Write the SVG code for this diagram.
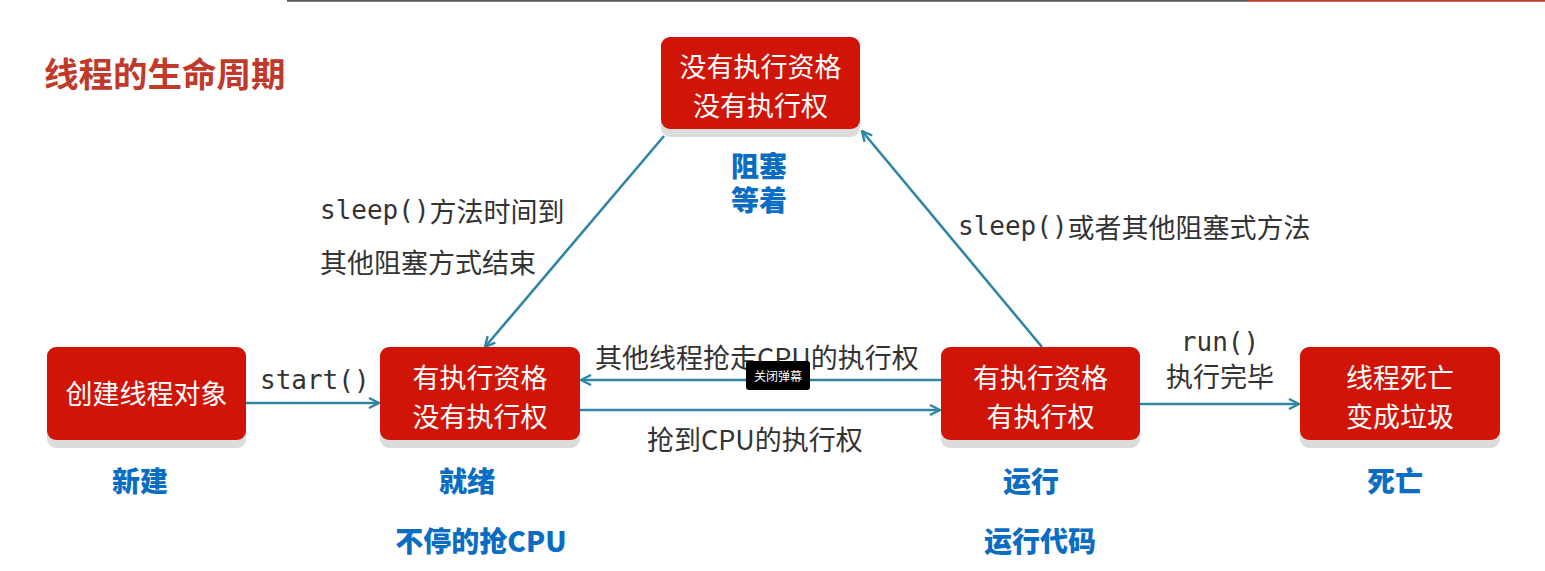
<svg xmlns="http://www.w3.org/2000/svg" width="1545" height="571" viewBox="0 0 1545 571">
<defs>
<marker id="arr" viewBox="0 0 12 12" refX="11" refY="6" markerWidth="12" markerHeight="12" markerUnits="userSpaceOnUse" orient="auto">
<path d="M1,1 L11,6 L1,11" fill="none" stroke="#2f86a2" stroke-width="2.4"/>
</marker>
<style>
.box{fill:#d01508}
.shadow{fill:#dcdcdc}
.bt{font-family:"Noto Sans CJK SC","Noto Sans",sans-serif;font-size:27px;fill:#ffffff;text-anchor:middle;dominant-baseline:central}
.lbl{font-family:"DejaVu Sans Mono","Noto Sans CJK SC",monospace;font-size:26px;fill:#333333;dominant-baseline:central}
.lbl tspan{font-family:"Noto Sans CJK SC",sans-serif;font-size:27px}
.cn{font-family:"Noto Sans CJK SC","Noto Sans",sans-serif;font-size:27px;fill:#333333;dominant-baseline:central}
.blue{font-family:"Noto Sans CJK SC",sans-serif;font-size:28px;font-weight:900;fill:#0b6cc4;text-anchor:middle;dominant-baseline:central}
.conn{stroke:#2f86a2;stroke-width:2.6;fill:none}
</style>
</defs>
<rect width="1545" height="571" fill="#ffffff"/>
<line x1="287" y1="0.8" x2="1248" y2="0.8" stroke="#555a5e" stroke-width="2"/>
<line x1="1248" y1="0.8" x2="1545" y2="0.8" stroke="#c23a2e" stroke-width="2"/>
<text x="44" y="72" font-family="Noto Sans CJK SC,sans-serif" font-size="34.5" font-weight="700" fill="#c0392b" dominant-baseline="central">线程的生命周期</text>

<g id="connectors">
<line class="conn" x1="246" y1="403" x2="379" y2="403" marker-end="url(#arr)"/>
<line class="conn" x1="580" y1="410" x2="940" y2="410" marker-end="url(#arr)"/>
<line class="conn" x1="941" y1="380" x2="581" y2="380" marker-end="url(#arr)"/>
<line class="conn" x1="1140" y1="404" x2="1299" y2="404" marker-end="url(#arr)"/>
<line class="conn" x1="664" y1="136" x2="485" y2="347" marker-end="url(#arr)"/>
<line class="conn" x1="1042" y1="347" x2="862" y2="131" marker-end="url(#arr)"/>
<text class="lbl" x="260" y="380">start()</text>
<text class="cn" x="647" y="438">抢到CPU的执行权</text>
<text class="cn" x="595" y="356">其他线程抢走CPU的执行权</text>
<text class="lbl" x="1220" y="342" text-anchor="middle">run()</text>
<text class="cn" x="1220" y="375" text-anchor="middle">执行完毕</text>
<text class="lbl" x="320" y="210">sleep()<tspan>方法时间到</tspan></text>
<text class="cn" x="320" y="261">其他阻塞方式结束</text>
<text class="lbl" x="958" y="226">sleep()<tspan>或者其他阻塞式方法</tspan></text>
</g>

<g id="blocked">
<rect class="shadow" x="661" y="45" width="199" height="92" rx="9"/>
<rect class="box" x="661" y="37" width="199" height="92" rx="9"/>
<text class="bt" x="760.5" y="65">没有执行资格</text>
<text class="bt" x="760.5" y="104">没有执行权</text>
<text class="blue" x="759" y="182" font-size="27"><tspan x="759" dy="-17">阻塞</tspan><tspan x="759" dy="34">等着</tspan></text>
</g>

<g id="new">
<rect class="shadow" x="47" y="355" width="199" height="93" rx="9"/>
<rect class="box" x="47" y="347" width="199" height="93" rx="9"/>
<text class="bt" x="146.5" y="392">创建线程对象</text>
<text class="blue" x="140" y="480">新建</text>
</g>

<g id="ready">
<rect class="shadow" x="380" y="355" width="200" height="93" rx="9"/>
<rect class="box" x="380" y="347" width="200" height="93" rx="9"/>
<text class="bt" x="480" y="376">有执行资格</text>
<text class="bt" x="480" y="415">没有执行权</text>
<text class="blue" x="467" y="480">就绪</text>
<text class="blue" x="481" y="540">不停的抢CPU</text>
</g>

<g id="running">
<rect class="shadow" x="941" y="355" width="199" height="93" rx="9"/>
<rect class="box" x="941" y="347" width="199" height="93" rx="9"/>
<text class="bt" x="1040.5" y="376">有执行资格</text>
<text class="bt" x="1040.5" y="415">有执行权</text>
<text class="blue" x="1031" y="480">运行</text>
<text class="blue" x="1040" y="540">运行代码</text>
</g>

<g id="dead">
<rect class="shadow" x="1300" y="355" width="200" height="93" rx="9"/>
<rect class="box" x="1300" y="347" width="200" height="93" rx="9"/>
<text class="bt" x="1400" y="376">线程死亡</text>
<text class="bt" x="1400" y="415">变成垃圾</text>
<text class="blue" x="1395" y="480">死亡</text>
</g>

<g id="overlay">
<rect x="746" y="361" width="64" height="29" rx="3" fill="#000000"/>
<text x="778" y="375.5" font-family="Noto Sans CJK SC,sans-serif" font-size="12" fill="#ffffff" text-anchor="middle" dominant-baseline="central">关闭弹幕</text>
</g>
</svg>
